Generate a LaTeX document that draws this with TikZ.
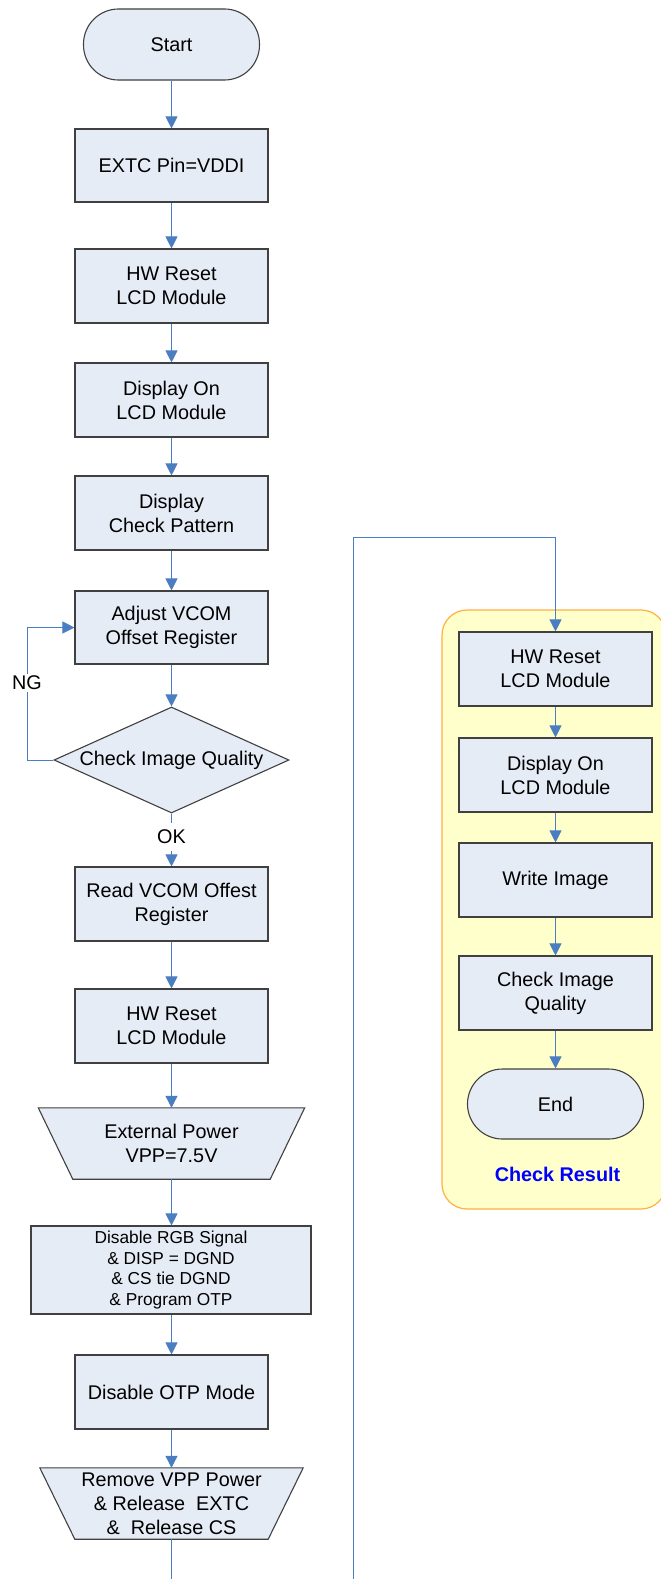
\documentclass[tikz,border=0pt]{standalone}
\usepackage{fontspec}
\setmainfont{Liberation Sans}
\usetikzlibrary{arrows.meta,shapes.geometric}
\definecolor{boxfill}{RGB}{230,236,246}
\definecolor{boxline}{RGB}{64,64,64}
\definecolor{linecol}{RGB}{74,126,193}
\definecolor{grpfill}{RGB}{255,255,204}
\definecolor{grpline}{RGB}{255,176,64}
\definecolor{resblue}{RGB}{0,0,255}
\pgfdeclarelayer{bg}
\pgfsetlayers{bg,main}
\newcommand\fsmain{\fontsize{19.8}{24}\selectfont}
\newcommand\fssmall{\fontsize{17.3}{20.7}\selectfont}
\begin{document}
\begin{tikzpicture}[x=1pt,y=-1pt,
  stepbox/.style={draw=boxline,fill=boxfill,line width=1.1pt,minimum width=193pt,minimum height=74pt,inner sep=0pt,align=center,font=\fsmain},
  term/.style={stepbox,rounded corners=35pt,minimum width=176pt,minimum height=71pt},
  trapnode/.style={minimum width=#1,minimum height=71pt,inner sep=0pt,align=center,font=\fsmain},
  trapshape/.style={draw=boxline,fill=boxfill,line width=1.1pt},
  decision/.style={shape=diamond,draw=boxline,fill=boxfill,line width=1.1pt,minimum width=235pt,minimum height=106pt,aspect=2.2,inner sep=0pt,font=\fsmain},
  conn/.style={draw=linecol,line width=1pt,-{Triangle[width=12pt,length=12pt]}},
  plainline/.style={draw=linecol,line width=1pt},
  lbl/.style={fill=white,inner xsep=1pt,inner ysep=7pt,font=\fsmain},
  group/.style={draw=grpline,fill=grpfill,line width=1.2pt,rounded corners=25pt}]
\useasboundingbox (0,0) rectangle (661,1579);

% group
\draw[group] (442,610) rectangle (666,1209);

% left column
\node[term] (start) at (171.5,44.5) {Start};
\node[stepbox,minimum height=73pt] (extc) at (171.5,165.5) {EXTC Pin=VDDI};
\node[stepbox] (hw1) at (171.5,286) {HW Reset\\LCD Module};
\node[stepbox] (disp1) at (171.5,400) {Display On\\LCD Module};
\node[stepbox] (pat) at (171.5,513) {Display\\Check Pattern};
\node[stepbox,minimum height=73pt] (adj) at (171.5,627.5) {Adjust VCOM\\Offset Register};
\node[decision] (dia) at (171.5,760) {Check Image Quality};
\node[lbl] (ok) at (171.5,837) {OK};
\node[stepbox] (read) at (171.5,904) {Read VCOM Offest\\Register};
\node[stepbox] (hw2) at (171.5,1026) {HW Reset\\LCD Module};
\node[trapnode=266pt] (ext) at (171.5,1143.5) {External Power\\VPP=7.5V};
\node[stepbox,minimum width=280pt,minimum height=88pt,font=\fssmall] (rgb) at (171,1270) {Disable RGB Signal\\\& DISP = DGND\\\& CS tie DGND\\\& Program OTP};
\node[stepbox] (otp) at (171.5,1392) {Disable OTP Mode};
\node[trapnode=263pt] (rem) at (171.5,1503.5) {Remove VPP Power\\\&~Release~~EXTC\\\&~~Release CS};

\begin{pgfonlayer}{bg}
  \fill[white] (0,0) rectangle (661,1579);
  \filldraw[trapshape] (ext.north west) -- (ext.north east) -- ([xshift=-34.5pt]ext.south east) -- ([xshift=34.5pt]ext.south west) -- cycle;
  \filldraw[trapshape] (rem.north west) -- (rem.north east) -- ([xshift=-35pt]rem.south east) -- ([xshift=35pt]rem.south west) -- cycle;
\end{pgfonlayer}

% right column
\node[stepbox] (rhw) at (555.5,669) {HW Reset\\LCD Module};
\node[stepbox] (rdisp) at (555.5,775) {Display On\\LCD Module};
\node[stepbox] (rwrite) at (555.5,880) {Write Image};
\node[stepbox] (rcheck) at (555.5,993) {Check Image\\Quality};
\node[term,minimum height=70pt] (rend) at (555.5,1104) {End};
\node[font=\fsmain\bfseries,text=resblue] (res) at (557.5,1174) {Check Result};

% connectors
\draw[conn] (start) -- (extc);
\draw[conn] (extc) -- (hw1);
\draw[conn] (hw1) -- (disp1);
\draw[conn] (disp1) -- (pat);
\draw[conn] (pat) -- (adj);
\draw[conn] (adj) -- (dia);
\draw[plainline] (dia) -- (ok);
\draw[conn] (ok) -- (read);
\draw[conn] (read) -- (hw2);
\draw[conn] (hw2) -- (ext);
\draw[conn] (ext) -- (rgb.north -| ext);
\draw[conn] (rgb.south -| otp) -- (otp);
\draw[conn] (otp) -- (rem);
\coordinate (ngc) at (27,760);
\draw[conn] (dia.west) -- (ngc) |- (adj.west);
\node[fill=white,inner sep=2pt,font=\fsmain] (ng) at (27,683) {NG};
\coordinate (bl) at (171.5,1580);
\draw[plainline] (rem.south) -- (bl);
\coordinate (br) at (353,1580);
\coordinate (tr) at (353,537);
\draw[conn] (br) -- (tr) -| (rhw.north);
\draw[conn] (rhw) -- (rdisp);
\draw[conn] (rdisp) -- (rwrite);
\draw[conn] (rwrite) -- (rcheck);
\draw[conn] (rcheck) -- (rend);
\end{tikzpicture}
\end{document}
